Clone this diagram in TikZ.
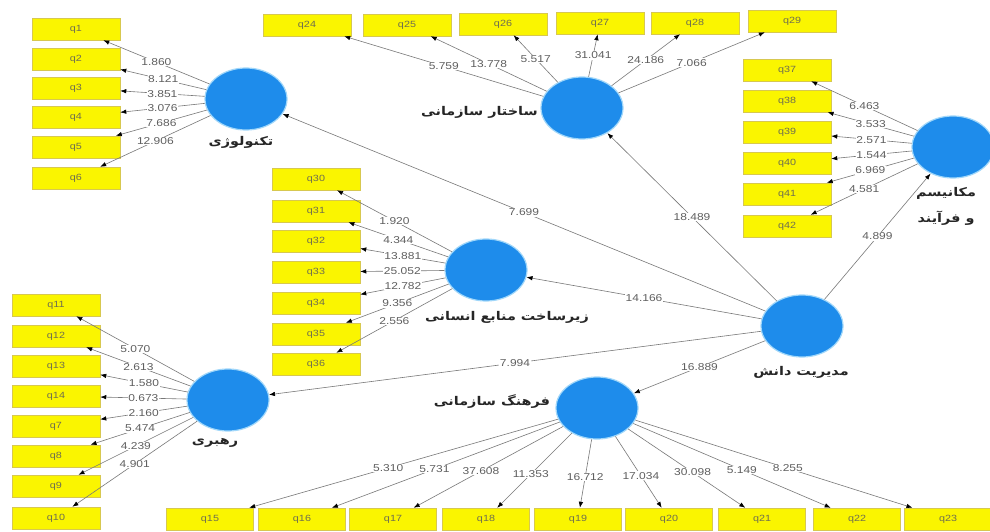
\documentclass[tikz,border=0pt]{standalone}
\usepackage{fontspec}
\setmainfont{Liberation Sans}[FakeStretch=1.2]
\newfontfamily\fafont[Script=Arabic,FakeStretch=1.2]{DejaVu Sans}
\TeXXeTstate=1
\usetikzlibrary{arrows.meta,shapes.geometric}
\definecolor{lvblue}{RGB}{30,140,235}
\definecolor{lvedge}{RGB}{160,215,250}
\definecolor{indyellow}{RGB}{250,245,0}
\definecolor{indborder}{RGB}{215,200,80}
\definecolor{indtext}{RGB}{110,110,80}
\definecolor{linegray}{RGB}{120,120,120}
\definecolor{numgray}{RGB}{95,95,95}
\tikzset{
  ind/.style={rectangle, fill=indyellow, draw=indborder, line width=0.5pt,
    minimum width=88pt, minimum height=22pt, inner sep=0pt,
    font=\fontsize{9}{10}\selectfont, text=indtext},
  lv/.style={ellipse, fill=lvblue, draw=lvedge, line width=1.2pt,
    minimum width=82pt, minimum height=62pt, inner sep=0pt},
  conn/.style={draw=linegray, line width=0.6pt,
    -{Latex[length=6pt,width=4.5pt,color=black]}},
  num/.style={fill=white, inner sep=0.6pt, font=\fontsize{10}{11}\selectfont, text=numgray},
  lvlab/.style={font=\fafont\bfseries\fontsize{12}{14}\selectfont, text=black!85, inner sep=1pt}
}
\begin{document}
\begin{tikzpicture}[x=1pt,y=-1pt]
\useasboundingbox (0,0) rectangle (990,532);
\fill[white] (0,0) rectangle (990,532);
\clip (0,0) rectangle (990,532);
% latent variables
\node[lv] (tech) at (246,99) {};
\node[lv] (struct) at (582,108) {};
\node[lv] (hr) at (486,270) {};
\node[lv] (km) at (802,326) {};
\node[lv] (cult) at (597,408) {};
\node[lv] (lead) at (228,400) {};
\node[lv] (mech) at (953,147) {};
% latent labels
\node[lvlab] (techlab) at (241,142) {\beginR تکنولوژی\endR};
\node[lvlab, anchor=east] (structlab) at (539,112) {\beginR ساختار سازمانی\endR};
\node[lvlab] (hrlab) at (507,317) {\beginR زیرساخت منابع انسانی\endR};
\node[lvlab] (kmlab) at (801,372) {\beginR مدیریت دانش\endR};
\node[lvlab] (cultlab) at (492,402) {\beginR فرهنگ سازمانی\endR};
\node[lvlab] (leadlab) at (215,443) {\beginR رهبری\endR};
\node[lvlab] (mechlab1) at (946,193) {\beginR مکانیسم\endR};
\node[lvlab] (mechlab2) at (946,218) {\beginR و فرآیند\endR};
% indicators
\foreach \n/\y in {1/29,2/59,3/88,4/117,5/147,6/178}
  \node[ind] (q\n) at (76,\y) {q\n};
\foreach \n/\x/\y in {24/307/25,25/407/25,26/503/24,27/600/23,28/695/23,29/792/21}
  \node[ind] (q\n) at (\x,\y) {q\n};
\foreach \n/\y in {37/70,38/101,39/132,40/163,41/194,42/226}
  \node[ind] (q\n) at (787,\y) {q\n};
\foreach \n/\y in {30/179,31/211,32/241,33/272,34/303,35/334,36/364}
  \node[ind] (q\n) at (316,\y) {q\n};
\foreach \n/\y in {11/305,12/336,13/366,14/396,7/426,8/456,9/486,10/518}
  \node[ind] (q\n) at (56,\y) {q\n};
\foreach \n/\x in {15/210,16/302,17/393,18/486,19/578,20/669,21/762,22/857,23/948}
  \node[ind, minimum width=87pt] (q\n) at (\x,519) {q\n};
% outer loadings
\foreach \n/\v in {1/1.860,2/8.121,3/3.851,4/3.076,5/7.686,6/12.906}
  \draw[conn] (tech) -- node[num] {\v} (q\n);
\foreach \n/\v in {24/5.759,25/13.778,26/5.517,27/31.041,28/24.186,29/7.066}
  \draw[conn] (struct) -- node[num] {\v} (q\n);
\foreach \n/\v in {37/6.463,38/3.533,39/2.571,40/1.544,41/6.969,42/4.581}
  \draw[conn] (mech) -- node[num] {\v} (q\n);
\foreach \n/\v in {30/1.920,31/4.344,32/13.881,33/25.052,34/12.782,35/9.356,36/2.556}
  \draw[conn] (hr) -- node[num] {\v} (q\n);
\foreach \n/\v in {11/5.070,12/2.613,13/1.580,14/0.673,7/2.160,8/5.474,9/4.239,10/4.901}
  \draw[conn] (lead) -- node[num] {\v} (q\n);
\foreach \n/\v in {15/5.310,16/5.731,17/37.608,18/11.353,19/16.712,20/17.034,21/30.098,22/5.149,23/8.255}
  \draw[conn] (cult) -- node[num, pos=0.55] {\v} (q\n);
% inner model
\foreach \t/\v in {tech/7.699,struct/18.489,mech/4.899,hr/14.166,lead/7.994,cult/16.889}
  \draw[conn] (km) -- node[num] {\v} (\t);
\end{tikzpicture}
\end{document}
